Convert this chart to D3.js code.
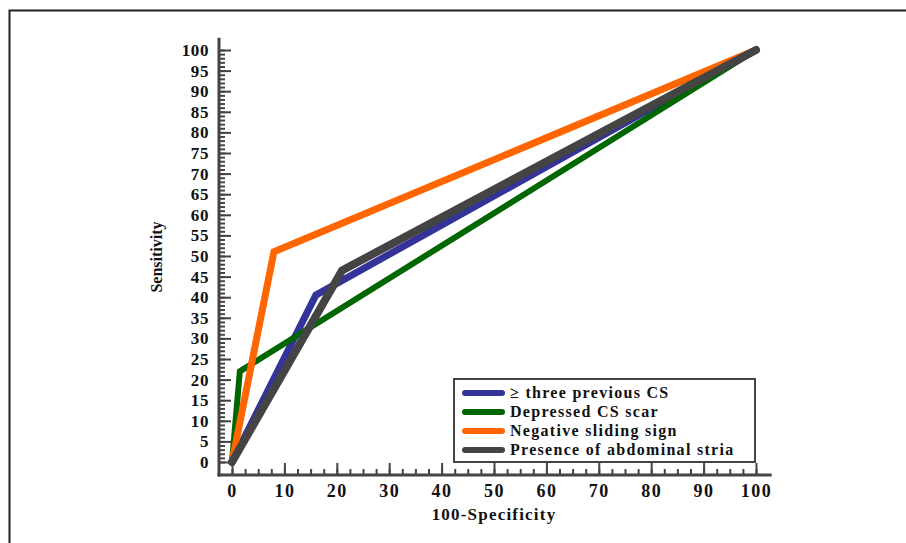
<!DOCTYPE html>
<html>
<head>
<meta charset="utf-8">
<script src="https://cdn.jsdelivr.net/npm/d3@7"></script>
<style>
  body { margin: 0; background: #fff; }
  svg text { font-family: "Liberation Serif", "Times New Roman", serif; font-weight: bold; }
</style>
</head>
<body>
<svg id="chart" width="906" height="543"></svg>
<script>
// ROC points (100-Specificity, Sensitivity)
const seriesNames = ["\u2265 three previous CS", "Depressed CS scar", "Negative sliding sign", "Presence of abdominal stria"];
const seriesColors = ["#333399", "#006600", "#ff6600", "#444444"];
const threePrevCS = [[0, 0], [16, 40.5], [100, 100]];
const depressedScar = [[0, 0], [1.5, 22], [100, 100]];
const negSliding = [[0, 0], [8, 51], [100, 100]];
const abdominalStria = [[0, 0], [21, 46.5], [100, 100]];
const allSeries = [threePrevCS, depressedScar, negSliding, abdominalStria];
const lineWidths = [7, 6, 7, 8];

const xMajor = d3.range(0, 101, 10);
const xMinor = d3.range(0, 101, 2.5);
const yMajor = d3.range(0, 101, 5);
const yMinor = d3.range(0, 101, 1);

const svg = d3.select("#chart");

// outer frame (left and top edges only visible)
svg.append("path")
  .attr("d", "M9.5,543 L9.5,10.5 L906,10.5")
  .attr("fill", "none")
  .attr("stroke", "#222")
  .attr("stroke-width", 2);

const x = d3.scaleLinear().domain([0, 100]).range([232, 756]);
const y = d3.scaleLinear().domain([0, 100]).range([462, 50]);

const yAxisX = 219;
const xAxisY = 475;
const axisColor = "#444";

// y axis: minor ticks
svg.append("g")
  .attr("transform", `translate(${yAxisX},0)`)
  .call(d3.axisLeft(y).tickValues(yMinor).tickSize(-6).tickFormat(""))
  .call(g => g.select(".domain").remove());
// y axis: major ticks + labels
svg.append("g")
  .attr("transform", `translate(${yAxisX},0)`)
  .call(d3.axisLeft(y).tickValues(yMajor).tickSize(-12).tickPadding(10))
  .call(g => g.select(".domain").remove())
  .call(g => g.selectAll("text").attr("font-size", 17).attr("letter-spacing", 0.6).attr("fill", "#111"));

// x axis: minor ticks
svg.append("g")
  .attr("transform", `translate(0,${xAxisY})`)
  .call(d3.axisBottom(x).tickValues(xMinor).tickSize(-6).tickFormat(""))
  .call(g => g.select(".domain").remove());
svg.append("g")
  .attr("transform", `translate(0,${xAxisY})`)
  .call(d3.axisBottom(x).tickValues(xMajor).tickSize(-12).tickPadding(9))
  .call(g => g.select(".domain").remove())
  .call(g => g.selectAll("text").attr("font-size", 18).attr("letter-spacing", 1.5).attr("fill", "#111"));

svg.selectAll(".tick line").attr("stroke", axisColor).attr("stroke-width", 2);

// axis lines
svg.append("line")
  .attr("x1", yAxisX).attr("x2", yAxisX)
  .attr("y1", y(103)).attr("y2", xAxisY + 1.5)
  .attr("stroke", axisColor).attr("stroke-width", 3);
svg.append("line")
  .attr("x1", yAxisX - 1.5).attr("x2", x(103))
  .attr("y1", xAxisY).attr("y2", xAxisY)
  .attr("stroke", axisColor).attr("stroke-width", 3);

// axis titles
svg.append("text")
  .attr("transform", `translate(162,257) rotate(-90)`)
  .attr("text-anchor", "middle")
  .attr("font-size", 16)
  .attr("fill", "#111")
  .text("Sensitivity");
svg.append("text")
  .attr("x", 494).attr("y", 520)
  .attr("text-anchor", "middle")
  .attr("font-size", 17)
  .attr("letter-spacing", 1.2)
  .attr("fill", "#111")
  .text("100-Specificity");

// ROC lines
const line = d3.line().x(d => x(d[0])).y(d => y(d[1]));
allSeries.forEach((s, i) => {
  svg.append("path")
    .datum(s)
    .attr("d", line)
    .attr("fill", "none")
    .attr("stroke", seriesColors[i])
    .attr("stroke-width", lineWidths[i])
    .attr("stroke-linejoin", "miter")
    .attr("stroke-linecap", "round");
});

// legend
const legend = svg.append("g");
legend.append("rect")
  .attr("x", 454).attr("y", 379)
  .attr("width", 301).attr("height", 83)
  .attr("fill", "#fff")
  .attr("stroke", "#444")
  .attr("stroke-width", 2);
seriesNames.forEach((name, i) => {
  const ly = 393 + i * 19;
  legend.append("line")
    .attr("x1", 465).attr("x2", 502)
    .attr("y1", ly).attr("y2", ly)
    .attr("stroke", seriesColors[i])
    .attr("stroke-width", 6)
    .attr("stroke-linecap", "round");
  legend.append("text")
    .attr("x", 510).attr("y", ly + 5)
    .attr("font-size", 16)
    .attr("letter-spacing", 1.3)
    .attr("fill", "#111")
    .text(name);
});
</script>
</body>
</html>
